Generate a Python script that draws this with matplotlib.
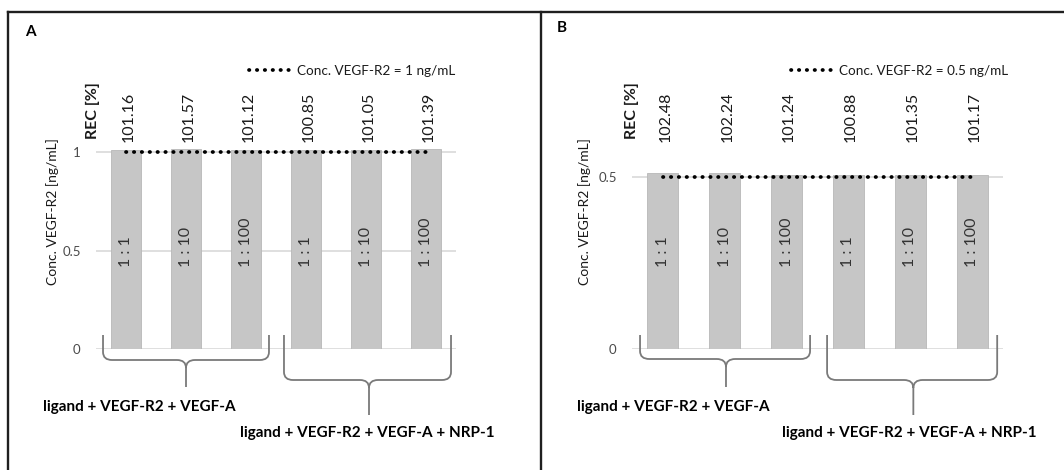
import matplotlib
matplotlib.use("Agg")
import matplotlib.pyplot as plt
from matplotlib.path import Path
from matplotlib.patches import PathPatch
from matplotlib.lines import Line2D
from matplotlib.transforms import blended_transform_factory

plt.rcParams['font.family'] = ['Lato', 'DejaVu Sans']

# ---------------- data ----------------
ratios = ["1 : 1", "1 : 10", "1 : 100", "1 : 1", "1 : 10", "1 : 100"]
groups = ["ligand + VEGF-R2 + VEGF-A", "ligand + VEGF-R2 + VEGF-A + NRP-1"]

conc_a = 1.0
rec_a = [101.16, 101.57, 101.12, 100.85, 101.05, 101.39]
meas_a = [1.0116, 1.0157, 1.0112, 1.0085, 1.0105, 1.0139]

conc_b = 0.5
rec_b = [102.48, 102.24, 101.24, 100.88, 101.35, 101.17]
meas_b = [0.5124, 0.5112, 0.5062, 0.5044, 0.5068, 0.5059]

legend_a = "Conc. VEGF-R2 = 1 ng/mL"
legend_b = "Conc. VEGF-R2 = 0.5 ng/mL"
yticks_a = [0, 0.5, 1]
ytick_labels_a = ["0", "0.5", "1"]
yticks_b = [0, 0.5]
ytick_labels_b = ["0", "0.5"]

W, H = 1064, 470
fig = plt.figure(figsize=(W / 100, H / 100), dpi=100)


def fx(px):
    return px / W


def fy(py):
    return 1 - py / H


def panel(letter, letter_xy, ax_px, ylim, yticks, yticklabels, meas, rec, conc,
          leg_text, leg_right_px, rec_hdr_x, braces, glabels, ylabel_x):
    left, right, top, bottom = ax_px
    ax = fig.add_axes([fx(left), fy(bottom), (right - left) / W, (bottom - top) / H])
    x = list(range(len(meas)))
    ax.bar(x, meas, width=0.5, color='#c6c6c6', edgecolor='#b8b8b8', lw=0.6, zorder=2)
    ln, = ax.plot([x[0], x[-1]], [conc, conc], color='black', lw=2.7,
                  linestyle=(0, (0.1, 2.0)), dash_capstyle='round', zorder=3,
                  label=leg_text)
    ax.set_xlim(-0.5, len(meas) - 0.5)
    ax.set_ylim(*ylim)
    ax.set_yticks(yticks)
    ax.set_yticklabels(yticklabels, fontsize=9.5, color='#4a4a4a')
    ax.set_xticks([])
    ax.tick_params(axis='y', length=0, pad=11)
    for s in ax.spines.values():
        s.set_visible(False)
    ax.yaxis.grid(True, color='#d9d9d9', lw=1.2, zorder=0)
    ax.set_axisbelow(True)

    tr = blended_transform_factory(ax.transData, fig.transFigure)
    # REC values
    for i, r in enumerate(rec):
        ax.text(i + 0.04, fy(142), f"{r:.2f}", rotation=90, ha='center', va='bottom',
                fontsize=11.5, color='#1a1a1a', transform=tr)
    ax.text(rec_hdr_x, fy(139), "REC [%]", rotation=90, ha='center', va='bottom',
            fontsize=11.5, fontweight='bold', color='#1a1a1a', transform=tr)
    # ratio labels inside bars
    for i, lab in enumerate(ratios):
        ax.text(i, fy(267), lab, rotation=90, ha='center', va='bottom',
                fontsize=11.5, color='#333333', transform=tr, zorder=4)
    # legend
    ax.legend(handles=[ln], loc='center right', frameon=False, fontsize=9.7,
              bbox_to_anchor=(fx(leg_right_px), fy(71)), bbox_transform=fig.transFigure,
              handlelength=3.3, handletextpad=0.25, borderpad=0, borderaxespad=0,
              labelcolor='#1a1a1a')
    # y label
    fig.text(fx(ylabel_x), fy(212), "Conc. VEGF-R2 [ng/mL]", rotation=90,
             ha='center', va='center', fontsize=10, color='#1a1a1a')
    # panel letter
    fig.text(fx(letter_xy[0]), fy(letter_xy[1]), letter, fontsize=11,
             fontweight='bold', ha='left', va='center', color='black')
    # braces
    for (x0, x1, xc, yt, yh, yp) in braces:
        rx = 0.15
        ry = 8 / H
        ytf, yhf, ypf = fy(yt), fy(yh), fy(yp)
        verts = [(x0, ytf), (x0, yhf + ry), (x0, yhf), (x0 + rx, yhf),
                 (xc - rx, yhf), (xc, yhf), (xc, yhf - ry), (xc, ypf),
                 (x1, ytf), (x1, yhf + ry), (x1, yhf), (x1 - rx, yhf),
                 (xc + rx, yhf), (xc, yhf), (xc, yhf - ry)]
        codes = [Path.MOVETO, Path.LINETO, Path.CURVE3, Path.CURVE3,
                 Path.LINETO, Path.CURVE3, Path.CURVE3, Path.LINETO,
                 Path.MOVETO, Path.LINETO, Path.CURVE3, Path.CURVE3,
                 Path.LINETO, Path.CURVE3, Path.CURVE3]
        pp = PathPatch(Path(verts, codes), facecolor='none', edgecolor='#7a7a7a',
                       lw=1.3, transform=tr, clip_on=False)
        ax.add_patch(pp)
    # group labels
    for (gx, gy), g in zip(glabels, groups):
        fig.text(fx(gx), fy(gy), g, fontsize=11, fontweight='bold',
                 ha='left', va='center', color='black')
    return ax


panel("A", (25, 32), (96, 456, 112.6, 349), (0, 1.2), yticks_a, ytick_labels_a,
      meas_a, rec_a, conc_a, legend_a, 455, -0.55,
      [(-0.383, 2.383, 1.0, 335, 360, 387), (2.633, 5.417, 4.05, 335, 380, 415)],
      [(43, 407), (240, 433)], 53)

panel("B", (557, 28), (632, 1003, 142.6, 349), (0, 0.6), yticks_b, ytick_labels_b,
      meas_b, rec_b, conc_b, legend_b, 1008, -0.5,
      [(-0.37, 2.38, 1.02, 335, 359, 387), (2.655, 5.406, 4.05, 335, 380, 415)],
      [(577, 407), (782, 433)], 585)

# panel borders
for (xs, ys) in [((8, W), (11.5, 11.5)), ((8, 8), (11.5, H)), ((541, 541), (11.5, H))]:
    fig.add_artist(Line2D([fx(xs[0]), fx(xs[1])], [fy(ys[0]), fy(ys[1])],
                          color='#1f1f1f', lw=1.7, transform=fig.transFigure))

fig.savefig("out.png", dpi=100)
